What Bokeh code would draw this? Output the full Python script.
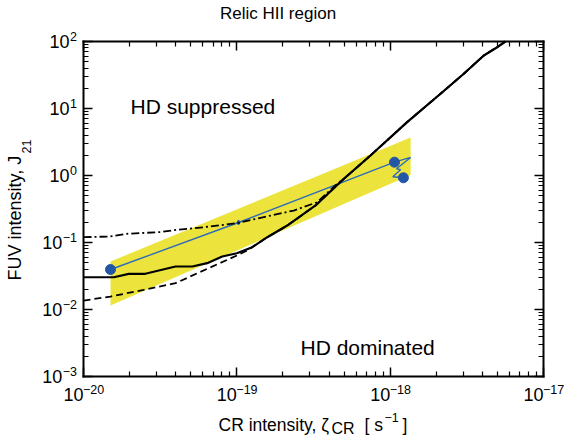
import numpy as np
from bokeh.plotting import figure
from bokeh.models import Label, LogAxis, FixedTicker, Range1d
from bokeh.embed import file_html
from bokeh.resources import INLINE

# ---------------- data ----------------
band_cr = [1.5e-20, 1.36e-18, 1.36e-18, 1.5e-20]
band_j = [0.052, 3.69, 1.02, 0.0115]

solid_cr = [1.0e-20, 1.58e-20, 1.97e-20, 2.53e-20, 3.98e-20, 5.12e-20, 6.41e-20, 8.03e-20,
            1.0e-19, 1.26e-19, 1.58e-19, 2.13e-19, 3.26e-19, 4.99e-19, 7.44e-19, 1.29e-18,
            2.13e-18, 3.02e-18, 4.08e-18, 4.99e-18, 5.65e-18]
solid_j = [0.0303, 0.0303, 0.0341, 0.0341, 0.0438, 0.0438, 0.0491, 0.0618,
           0.0692, 0.0851, 0.120, 0.179, 0.357, 0.893, 1.99, 6.25,
           16.6, 33.0, 61.8, 82.2, 100.0]

dashed_cr = [1.0e-20, 1.5e-20, 2.47e-20, 3.98e-20, 6.41e-20, 1.0e-19, 1.17e-19, 1.58e-19,
             2.13e-19, 3.26e-19, 4.99e-19, 7.44e-19, 1.29e-18, 2.13e-18, 3.02e-18, 4.08e-18,
             4.99e-18, 5.65e-18]
dashed_j = [0.0136, 0.0156, 0.0197, 0.0247, 0.0405, 0.064, 0.076, 0.120,
            0.179, 0.357, 0.893, 1.99, 6.25, 16.6, 33.0, 61.8,
            82.2, 100.0]

dashdot_cr = [1.0e-20, 1.5e-20, 1.93e-20, 3.18e-20, 4.08e-20, 6.09e-20, 1.0e-19, 1.43e-19,
              2.35e-19, 3.34e-19, 4.51e-19, 4.99e-19, 7.44e-19, 1.29e-18, 2.13e-18, 3.02e-18,
              4.08e-18, 4.99e-18, 5.65e-18]
dashdot_j = [0.120, 0.123, 0.135, 0.143, 0.155, 0.169, 0.194, 0.234,
             0.300, 0.399, 0.752, 0.893, 1.99, 6.25, 16.6, 33.0,
             61.8, 82.2, 100.0]

track_cr = [1.5e-20, 1.026e-19, 1.067e-18, 1.36e-18, 1.10e-18, 1.17e-18, 1.04e-18, 1.22e-18]
track_j = [0.0395, 0.199, 1.58, 1.86, 1.26, 1.22, 0.96, 0.925]

dots_cr = [1.5e-20, 1.067e-18, 1.22e-18]
dots_j = [0.0395, 1.58, 0.925]

arrow_cr = [1.026e-19]
arrow_j = [0.199]

x_ticks = [1e-20, 1e-19, 1e-18, 1e-17]
x_tick_exps = ["\u221220", "\u221219", "\u221218", "\u221217"]
y_ticks = [1e-3, 1e-2, 1e-1, 1e0, 1e1, 1e2]
y_tick_exps = ["\u22123", "\u22122", "\u22121", "0", "1", "2"]
tick_base = "10"

title_text = "Relic HII region"
region_labels = ["HD suppressed", "HD dominated"]
x_title_parts = ["CR intensity, \u03b6", "CR", "[ s", "\u22121", "]"]
y_title_parts = ["FUV intensity, J", "21"]

FONT = "Liberation Sans"

# ---------------- layout (the frame fills the canvas; the axes box is placed by ranges) ----------------
W, H = 564, 439
BL, BT, BR, BB = 83, 41, 543, 376          # pixel box of the axes
PXD_X = (BR - BL) / 3.0                    # pixels per decade
PXD_Y = (BB - BT) / 5.0

x_lo = 10 ** (-20 - BL / PXD_X)
x_hi = 10 ** (-17 + (W - BR) / PXD_X)
y_lo = 10 ** (-3 - (H - BB) / PXD_Y)
y_hi = 10 ** (2 + BT / PXD_Y)


def fx(px):
    return 10 ** (-20 + (px - BL) / PXD_X)


def fy(py):
    return 10 ** (2 - (py - BT) / PXD_Y)


AW = {"0": 0.556, "1": 0.556, "2": 0.556, "3": 0.556, "4": 0.556, "5": 0.556,
      "6": 0.556, "7": 0.556, "8": 0.556, "9": 0.556, "\u2212": 0.584}


def tw(s, size):
    return sum(AW.get(c, 0.556) for c in s) * size


p = figure(width=W, height=H, x_axis_type="log", y_axis_type="log",
           x_range=Range1d(x_lo, x_hi), y_range=Range1d(y_lo, y_hi),
           output_backend="svg", toolbar_location=None, min_border=0,
           background_fill_color="white", border_fill_color="white")
p.title.visible = False
p.xgrid.visible = False
p.ygrid.visible = False
p.outline_line_color = None

x_minor = [m * 10.0 ** k for k in range(-20, -17) for m in range(2, 10)]
y_minor = [m * 10.0 ** k for k in range(-3, 2) for m in range(2, 10)]


def style_axis(ax, ticks, minor, loc, bounds):
    ax.fixed_location = loc
    ax.bounds = bounds
    ax.ticker = FixedTicker(ticks=ticks, minor_ticks=minor)
    ax.axis_line_color = "black"
    ax.axis_line_width = 2
    ax.axis_line_cap = "square"
    ax.major_tick_in = 9
    ax.major_tick_out = 0
    ax.minor_tick_in = 5
    ax.minor_tick_out = 0
    ax.major_tick_line_width = 1.5
    ax.minor_tick_line_width = 1.2
    ax.major_tick_line_color = "black"
    ax.minor_tick_line_color = "black"
    ax.major_label_text_font_size = "2px"
    ax.major_label_text_alpha = 0.0
    ax.major_label_standoff = 0


xb = (x_ticks[0], x_ticks[-1])
yb = (y_ticks[0], y_ticks[-1])
style_axis(p.xaxis[0], x_ticks, x_minor, y_ticks[0], xb)
style_axis(p.yaxis[0], y_ticks, y_minor, x_ticks[0], yb)
top = LogAxis()
style_axis(top, x_ticks, x_minor, y_ticks[-1], xb)
p.add_layout(top, "above")
right = LogAxis()
style_axis(right, y_ticks, y_minor, x_ticks[-1], yb)
p.add_layout(right, "right")

# ---------------- marks ----------------
p.patch(band_cr, band_j, fill_color="#ece43c", line_color=None)

p.line(track_cr, track_j, line_color="#2e6bb8", line_width=1.4)
p.scatter(dots_cr, dots_j, size=10, marker="circle", fill_color="#2456a6", line_color="#2456a6")
p.scatter(arrow_cr, arrow_j, size=5, marker="diamond", fill_color="#2456a6", line_color="#2456a6")

p.line(dashed_cr, dashed_j, line_color="black", line_width=1.8, line_dash="7 4")
p.line(dashdot_cr, dashdot_j, line_color="black", line_width=1.8, line_dash="8 3 2 3")
p.line(solid_cr, solid_j, line_color="black", line_width=2.2)


# ---------------- texts ----------------
def lab(x, y, text, size, align="left", angle=0.0):
    p.add_layout(Label(x=x, y=y, text=text, text_font=FONT, text_font_size=size,
                       text_align=align, text_baseline="middle", angle=angle,
                       text_color="black"))


MAIN, SUP = 18, 12.5
# x tick labels: "10" ends at the tick, exponent follows
for t, e in zip(x_ticks, x_tick_exps):
    lab(t, fy(394), tick_base, f"{MAIN}px", align="right")
    lab(t * 10 ** (-0.5 / PXD_X), fy(388.5), e, f"{SUP}px", align="left")
# y tick labels: right-aligned block ending 6.5 px left of the axis
for t, e in zip(y_ticks, y_tick_exps):
    end_px = BL - 6.5
    lab(fx(end_px), t * 10 ** (5 / PXD_Y), e, f"{SUP}px", align="right")
    lab(fx(end_px - tw(e, SUP) - 0.5), t, tick_base, f"{MAIN}px", align="right")

lab(fx(277.5), fy(12.5), title_text, "17px", align="center")
lab(fx(130), fy(106), region_labels[0], "21px")
lab(fx(300), fy(347), region_labels[1], "21px")

# x-axis title: CR intensity, zeta_CR [ s^-1 ]
lab(fx(218), fy(424), x_title_parts[0], "17.5px")
lab(fx(331), fy(428), x_title_parts[1], "16px")
lab(fx(364), fy(424), x_title_parts[2], "17.5px")
lab(fx(384), fy(416.5), x_title_parts[3], "12.5px")
lab(fx(402), fy(424), x_title_parts[4], "17.5px")

# y-axis title: FUV intensity, J_21 (reads bottom to top)
lab(fx(14.5), fy(280), y_title_parts[0], "18px", angle=np.pi / 2)
lab(fx(25.5), fy(153), y_title_parts[1], "12.5px", angle=np.pi / 2)

open("out.html", "w").write(file_html(p, INLINE))
